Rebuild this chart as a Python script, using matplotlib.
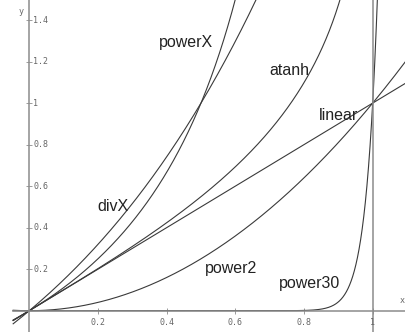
import numpy as np
import matplotlib
matplotlib.use("Agg")
import matplotlib.pyplot as plt

# curve names and where their labels sit (data coords)
labels = ["powerX", "atanh", "linear", "divX", "power2", "power30"]
label_x = [0.456, 0.756, 0.899, 0.244, 0.587, 0.817]
label_y = [1.294, 1.159, 0.938, 0.504, 0.205, 0.129]

x_ticks = [0.2, 0.4, 0.6, 0.8, 1]
x_tick_labels = ["0.2", "0.4", "0.6", "0.8", "1"]
y_ticks = [0.2, 0.4, 0.6, 0.8, 1, 1.2, 1.4]
y_tick_labels = ["0.2", "0.4", "0.6", "0.8", "1", "1.2", "1.4"]

power_base = 4      # powerX: base**x - 1
power_exps = [2, 30]
x_start = -0.047

XMIN, XMAX = -0.0853, 1.097
YMIN, YMAX = -0.1026, 1.4966

curve_col = "#3a3a3a"
axis_col = "#8c8c8c"

fig = plt.figure(figsize=(4.06, 3.32), dpi=100)
ax = fig.add_axes([0, 0, 1, 1])
ax.set_xlim(XMIN, XMAX)
ax.set_ylim(YMIN, YMAX)

x = np.linspace(x_start, XMAX, 4000)

# linear
ax.plot(x, x, color=curve_col, lw=0.8)
# power2 / power30
for p in power_exps:
    ax.plot(x, x ** p, color=curve_col, lw=0.8)
# powerX
ax.plot(x, power_base ** x - 1, color=curve_col, lw=0.8)
# divX
xd = x[x < 0.7]
ax.plot(xd, xd / (1 - xd), color=curve_col, lw=0.8)
# atanh
xa = x[x < 0.999]
ax.plot(xa, np.arctanh(xa), color=curve_col, lw=0.8)

ax.axvline(1, color=axis_col, lw=1.1)

for s in ["top", "right"]:
    ax.spines[s].set_visible(False)
ax.spines["left"].set_position(("data", 0))
ax.spines["bottom"].set_position(("data", 0))
ax.spines["bottom"].set_bounds(x_start, XMAX)
for s in ["left", "bottom"]:
    ax.spines[s].set_color(axis_col)
    ax.spines[s].set_linewidth(1.1)

ax.set_xticks(x_ticks)
ax.set_yticks(y_ticks)
ax.tick_params(direction="inout", length=4, width=0.6, color=axis_col,
               labelleft=False, labelbottom=False)

for v, t in zip(x_ticks, x_tick_labels):
    ax.text(v, -0.055, t, ha="center", va="center", fontsize=6,
            family="DejaVu Sans Mono", color="#666666")
for v, t in zip(y_ticks, y_tick_labels):
    ax.text(0.011, v, t, ha="left", va="center", fontsize=6,
            family="DejaVu Sans Mono", color="#666666")

ax.text(1.085, 0.05, "x", ha="center", va="center", fontsize=6,
        family="DejaVu Sans Mono", color="#666666")
ax.text(-0.025, 1.44, "y", ha="center", va="center", fontsize=6,
        family="DejaVu Sans Mono", color="#666666")

for t, lx, ly in zip(labels, label_x, label_y):
    ax.text(lx, ly, t, ha="center", va="center", fontsize=11.5,
            family="Liberation Sans", color="#222222")

fig.savefig("out.png", dpi=100, facecolor="white")
